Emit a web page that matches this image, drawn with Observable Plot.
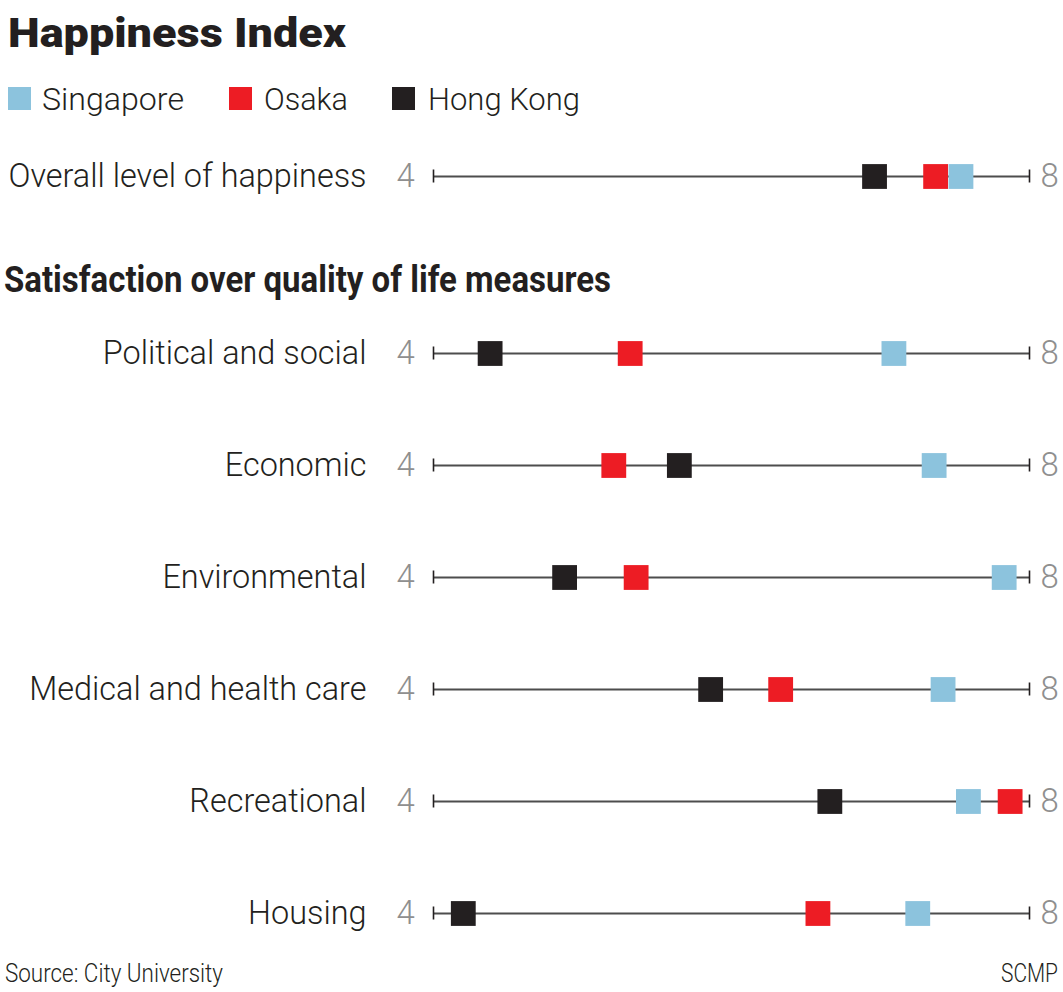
<!DOCTYPE html>
<html>
<head>
<meta charset="utf-8">
<script src="https://cdn.jsdelivr.net/npm/d3@7"></script>
<script src="https://cdn.jsdelivr.net/npm/@observablehq/plot@0.6"></script>
<style>
  html, body { margin: 0; padding: 0; background: #fff; }
  body { width: 1063px; height: 992px; position: relative; overflow: hidden;
         font-family: Roboto, 'Noto Sans', sans-serif; color: #231f20; }
  .abs { position: absolute; line-height: 1; white-space: nowrap; }
  .fit { display: inline-block; transform-origin: 0 50%; }
  #title { left: 8px; top: 12.5px; font-size: 41px; font-weight: 900; }
  .leg { font-size: 32px; font-weight: 300; top: 83px; }
  .sw { position: absolute; top: 87px; width: 23px; height: 23px; }
  #heading { left: 4px; top: 260.5px; font-size: 37px; font-weight: 700; }
  #source { left: 5px; top: 960px; font-size: 26px; font-weight: 300; }
  #credit { left: 1001px; top: 960px; font-size: 26px; font-weight: 300; }
</style>
</head>
<body>
<div id="title" class="abs"><span class="fit" data-w="338">Happiness Index</span></div>
<div id="legend"></div>
<div id="plot1" class="abs" style="left:0;top:120px"></div>
<div id="heading" class="abs"><span class="fit" data-w="607">Satisfaction over quality of life measures</span></div>
<div id="plot2" class="abs" style="left:0;top:297px"></div>
<div id="source" class="abs"><span class="fit" data-w="218">Source: City University</span></div>
<div id="credit" class="abs"><span class="fit" data-w="57">SCMP</span></div>
<script>
// ---- data ----
const cities = ["Singapore", "Osaka", "Hong Kong"];
const cityColors = ["#8cc3dd", "#ed1c24", "#231f20"];
const overallLabel = ["Overall level of happiness"];
const overallSingapore = [7.54];
const overallOsaka = [7.37];
const overallHongKong = [6.96];
const categories = ["Political and social", "Economic", "Environmental", "Medical and health care", "Recreational", "Housing"];
const singapore = [7.09, 7.36, 7.83, 7.42, 7.59, 7.25];
const osaka = [5.32, 5.21, 5.36, 6.33, 7.87, 6.58];
const hongKong = [4.38, 5.65, 4.88, 5.86, 6.66, 4.20];
const scaleMin = 4, scaleMax = 8;

const FONT = "Roboto, 'Noto Sans', sans-serif";

// ---- legend (HTML) ----
const legendSwatchX = [8, 229, 392];
const legendTextX = [42, 264, 428];
const legendTextW = [142, 84, 152];
const legend = document.getElementById("legend");
cities.forEach((c, i) => {
  const sw = document.createElement("div");
  sw.className = "sw";
  sw.style.left = legendSwatchX[i] + "px";
  sw.style.background = cityColors[i];
  legend.appendChild(sw);
  const t = document.createElement("div");
  t.className = "abs leg";
  t.style.left = legendTextX[i] + "px";
  const s = document.createElement("span");
  s.className = "fit";
  s.dataset.w = legendTextW[i];
  s.textContent = c;
  t.appendChild(s);
  legend.appendChild(t);
});

function buildTable(labels, sg, os, hk) {
  const rows = [];
  labels.forEach((l, i) => {
    rows.push({label: l, city: "Hong Kong", value: hk[i]});
    rows.push({label: l, city: "Osaka", value: os[i]});
    rows.push({label: l, city: "Singapore", value: sg[i]});
  });
  return rows;
}

function makePlot(labels, sg, os, hk) {
  const rowH = 112;
  const data = buildTable(labels, sg, os, hk);
  const rowsData = labels.map(l => ({label: l}));
  return Plot.plot({
    width: 1063,
    height: rowH * labels.length,
    marginLeft: 433,
    marginRight: 34,
    marginTop: 0,
    marginBottom: 0,
    style: {fontFamily: FONT, background: "transparent", overflow: "visible"},
    x: {domain: [scaleMin, scaleMax], axis: null},
    y: {domain: labels, axis: null, padding: 0},
    color: {domain: cities, range: cityColors},
    marks: [
      Plot.ruleY(rowsData, {y: "label", x1: () => scaleMin, x2: () => scaleMax, stroke: "#4d4d4d", strokeWidth: 1.8}),
      Plot.tickX(rowsData, {y: "label", x: () => scaleMin, stroke: "#231f20", strokeWidth: 1.6, insetTop: 49.5, insetBottom: 49.5}),
      Plot.tickX(rowsData, {y: "label", x: () => scaleMax, stroke: "#231f20", strokeWidth: 1.6, insetTop: 49.5, insetBottom: 49.5}),
      Plot.text(rowsData, {y: "label", x: () => scaleMin, text: () => String(scaleMin), dx: -28, fill: "#8f8f8f", fontSize: 34, fontWeight: 300, textAnchor: "middle"}),
      Plot.text(rowsData, {y: "label", x: () => scaleMax, text: () => String(scaleMax), dx: 20, fill: "#8f8f8f", fontSize: 34, fontWeight: 300, textAnchor: "middle"}),
      Plot.text(rowsData, {y: "label", x: () => scaleMin, text: "label", dx: -67, fill: "#231f20", fontSize: 33.5, fontWeight: 300, textAnchor: "end"}),
      Plot.dot(data, {y: "label", x: "value", fill: "city", symbol: "square", r: 14})
    ]
  });
}

const p1 = makePlot(overallLabel, overallSingapore, overallOsaka, overallHongKong);
const p2 = makePlot(categories, singapore, osaka, hongKong);
document.getElementById("plot1").appendChild(p1);
document.getElementById("plot2").appendChild(p2);

// condense SVG texts horizontally (narrow newspaper face) via textLength
const refText = Array.from(p1.querySelectorAll("text")).find(t => t.textContent === overallLabel[0]);
const targetLabelW = 358;
const f = refText ? Math.min(1, targetLabelW / refText.getComputedTextLength()) : 0.93;
[p1, p2].forEach(svg => {
  svg.querySelectorAll("text").forEach(t => {
    const w = t.getComputedTextLength();
    if (w > 0) {
      t.setAttribute("textLength", (w * f).toFixed(2));
      t.setAttribute("lengthAdjust", "spacingAndGlyphs");
    }
  });
});

// fit HTML texts to their measured widths
document.querySelectorAll(".fit").forEach(s => {
  const w = s.getBoundingClientRect().width;
  const target = +s.dataset.w;
  if (w > 0 && target) s.style.transform = `scaleX(${target / w})`;
});
</script>
</body>
</html>
